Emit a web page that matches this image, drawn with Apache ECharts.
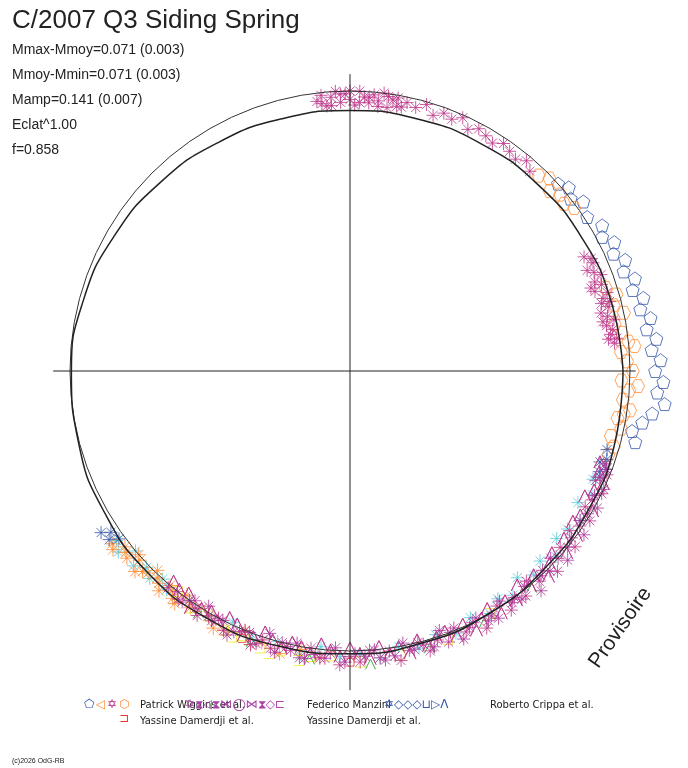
<!DOCTYPE html>
<html><head><meta charset="utf-8">
<script src="https://cdn.jsdelivr.net/npm/echarts@6/dist/echarts.min.js"></script>
<style>body{margin:0;background:#fff}#c{width:688px;height:768px}</style>
</head><body><div id="c"></div>
<script>
// angles in degrees (counter-clockwise from +x), radius in circle units
const fitAngles = [0,15,30,45,60,75,90,105,120,135,150,165,180,195,210,225,240,255,270,285,300,315,330,345,360];
const fitRadii  = [0.975,0.965,0.955,0.945,0.937,0.932,0.93,0.933,0.942,0.955,0.97,0.985,0.995,1.003,1.012,1.02,1.02,1.015,1.01,1.005,0.998,0.99,0.985,0.98,0.975];

const wigginsStar = [[97,.97],[96,.99],[95,.95],[94,.98],[93,1.0],[92,.96],[91,.99],[90,.97],[89,.95],[88,1.0],[87,.98],[86,.96],[85,.99],[84,.97],[83,1.0],[82,.95],[81,.98],[80,.99],[79,.96],[78,.98],[96,.96],[94,.95],[92,.99],[90,1.0],[88,.96],[86,.98],[84,.95],[82,.99],[80,.96],[76,.97],[74,.99],[72,.96],[70,.98],[68,.97],[66,.99],[64,.96],[62,.98],[60,.97],[58,.96],[56,.98],[54,.97],[52,.96],[50,.98],[48,.96],[26,.93],[24,.95],[23,.92],[22,.94],[21,.96],[20,.93],[19,.95],[18,.92],[17,.96],[16,.94],[15,.93],[14,.95],[13,.92],[12,.94],[11,.96],[10,.93],[9,.95],[8,.94],[7,.96],[6,.95],[25,.95],[19,.91],[15,.96],[11,.92],[7,.93]];
const wigginsPent = [[42,1.0],[40,1.02],[38,1.0],[36,1.03],[33,1.01],[30,1.04],[28,1.02],[26,1.05],[24,1.03],[22,1.06],[20,1.04],[18,1.07],[16,1.05],[14,1.08],[12,1.06],[10,1.09],[8,1.07],[6,1.1],[4,1.08],[2,1.11],[0,1.09],[-2,1.12],[-4,1.1],[-6,1.13],[-8,1.09],[-10,1.06],[-12,1.03],[-14,1.05]];
const wigginsHex = [[46,.97],[44,.99],[42,.96],[40,.98],[38,.97],[36,.99],[18,.96],[16,.99],[14,.97],[12,1.0],[10,.96],[8,.98],[6,1.0],[4,.97],[2,.99],[0,1.01],[-2,.97],[-4,1.0],[-6,.98],[-8,1.01],[-10,.97],[-12,.99],[-14,.96],[-16,.98],[-18,.97],[5,1.02],[-3,1.03],[-9,.99]];
const crippaBlue = [[-17,.96],[-19,.97],[-20,.95],[-21,.98],[-22,.96],[-23,.97],[-145,1.05],[-146,1.03],[-147,1.06],[-144,1.02]];
const magA = [-20,-22,-24,-26,-28,-30,-32,-34,-36,-38,-40,-42,-44,-46,-48,-50,-52,-54,-56,-58,-60,-62,-64,-66,-68,-70,-72,-74,-76,-78,-80,-82,-84,-86,-88,-90,-92,-94,-96,-98,-100,-102,-104,-106,-108,-110,-112,-114,-116,-118,-120,-122,-124,-126,-128,-130];
const magR1 = [.97,.99,.96,1.0,.98,.97,1.01,.99,.97,1.02,.98,1.0,1.03,.99,1.01,.98,1.02,1.0,1.03,.99,1.01,1.04,1.0,1.02,.99,1.03,1.01,1.04,1.0,1.02,1.05,1.01,1.03,1.0,1.04,1.02,1.05,1.01,1.03,1.0,1.04,1.02,1.0,1.03,1.01,1.04,1.0,1.02,1.03,1.0,1.01,1.03,.99,1.02,1.0,1.01];
const magR2 = [.95,.96,.99,.97,.95,1.0,.97,.96,1.0,.97,1.01,.97,.99,1.02,.98,1.0,.97,1.01,.99,1.02,.98,1.0,1.03,.99,1.02,.99,1.0,1.02,.99,1.03,1.0,1.02,.99,1.03,1.01,.99,1.02,1.0,.98,1.02,1.0,.99,1.02,1.0,.98,1.01,1.02,.99,.98,1.01,.99,1.0,1.02,.98,.99,.98];
const magB = [-21,-23,-25,-27,-29,-31,-33,-35,-37,-39,-41,-43,-45,-47,-49,-51,-53,-55,-57,-59,-61,-63,-65,-67,-69,-71,-73,-75,-77,-79,-81,-83,-85,-87,-89,-91,-93,-95,-97,-99,-101,-103,-105,-107,-109,-111,-113,-115,-117,-119,-121,-123,-125,-127];
const magR3 = [.98,.97,1.0,.98,1.01,.99,.98,1.02,.99,1.0,1.03,.98,1.01,1.0,1.04,.99,1.02,1.01,.98,1.03,1.02,.99,1.01,1.04,1.0,.98,1.03,1.01,1.02,.99,1.03,1.04,1.0,1.02,1.01,1.04,.99,1.03,1.02,1.04,.99,1.01,1.04,.98,1.03,1.0,1.01,1.04,1.0,1.02,.98,1.01,1.0,1.02];
const cyanA = [-24,-27,-30,-33,-36,-39,-42,-45,-48,-51,-54,-57,-60,-64,-68,-72,-76,-80,-84,-88,-92,-96,-100,-105,-110,-115,-120,-125,-130,-134,-138,-142,-132,-136,-140,-144];
const cyanR = [.95,.97,.94,.98,.96,.95,.99,.96,.98,.95,.99,.97,1.0,.98,1.01,.99,1.02,1.0,1.03,1.01,1.02,.99,1.03,1.0,1.02,.99,1.01,1.0,1.02,1.03,1.04,1.05,1.0,1.01,1.0,1.03];
const orangeA = [-96,-100,-104,-108,-112,-116,-120,-124,-126,-128,-130,-132,-134,-136,-138,-140,-142,-144,-127,-129,-131,-133,-135,-137,-139,-141,-143,-110,-118,-122];
const orangeR = [1.03,1.01,1.04,1.02,1.0,1.03,1.01,1.02,.99,1.03,1.0,1.02,.99,1.03,1.01,1.04,1.02,1.05,1.04,1.01,1.04,1.01,1.02,1.05,1.0,1.03,1.06,1.04,1.04,1.0];
const yellowA = [-60,-70,-80,-88,-94,-100,-104,-108,-112,-116,-120,-124,-128,-98,-106,-114];
const yellowR = [1.0,1.02,1.03,1.04,1.02,1.05,1.03,1.04,1.02,1.03,1.01,1.02,1.0,1.03,1.05,1.04];
const greenA = [-50,-62,-74,-86,-98,-110,-122];
const greenR = [1.01,1.02,1.03,1.05,1.04,1.03,1.02];
const redA = [-90,-112];
const redR = [1.04,1.03];

const toXY = (a, r) => [r*Math.cos(a*Math.PI/180), r*Math.sin(a*Math.PI/180)];
const pairs = arr => arr.map(p => toXY(p[0], p[1]));
const zipAR = (A, R) => A.map((a,i) => toXY(a, R[i]));
const circle = []; for (let a=0;a<=360;a+=5) circle.push(toXY(a,1));
const fit = []; for (let i=0;i<fitAngles.length;i++) fit.push(toXY(fitAngles[i], fitRadii[i]));

const cross = 'path://M0,-10L0,10M-10,0L10,0M-7,-7L7,7M-7,7L7,-7';
const pent = 'path://M0,-10L9.5,-3L6,8L-6,8L-9.5,-3Z';
const hex = 'path://M-5,-9L5,-9L10,0L5,9L-5,9L-10,0Z';
const lam = 'path://M-6,8L0,-8L6,8L0,-8Z';
const sc = (name, data, color, symbol, size) => ({type:'scatter', name, data, symbol, symbolSize:size, clip:false, silent:true,
  itemStyle:{color:'transparent', borderColor:color, borderWidth:1}});

const chart = echarts.init(document.getElementById('c'));
chart.setOption({
  animation:false,
  grid:{left:14, top:35, width:672, height:672},
  xAxis:{type:'value', min:-1.2, max:1.2, show:false},
  yAxis:{type:'value', min:-1.2, max:1.2, show:false},
  series:[
    {type:'line', data:[[-1.06,0],[1.02,0]], symbol:'none', lineStyle:{color:'#222',width:1}, silent:true},
    {type:'line', data:[[0,1.06],[0,-1.14]], symbol:'none', lineStyle:{color:'#222',width:1}, silent:true},
    {type:'line', data:circle, symbol:'none', lineStyle:{color:'#333',width:1}, silent:true},
    {type:'line', data:fit, smooth:0.5, symbol:'none', lineStyle:{color:'#222',width:1.5}, silent:true},
    sc('wp', pairs(wigginsPent), '#3355aa', pent, 13),
    sc('wh', pairs(wigginsHex), '#ff8c33', hex, 13),
    sc('cy', zipAR(cyanA, cyanR), '#55ccdd', cross, 13),
    sc('or', zipAR(orangeA, orangeR), '#ff8c33', cross, 14),
    sc('ye', zipAR(yellowA, yellowR), '#eeee22', 'path://M-8,-8L8,-8L8,8L-8,8', 10),
    sc('gr', zipAR(greenA, greenR), '#55bb55', lam, 10),
    sc('cb', pairs(crippaBlue), '#3355aa', cross, 13),
    sc('m1', zipAR(magA, magR1), '#bb3388', cross, 13),
    sc('m2', zipAR(magA, magR2), '#bb3388', lam, 12),
    sc('m3', zipAR(magB, magR3), '#aa3399', cross, 13),
    sc('re', zipAR(redA, redR), '#ee3333', 'path://M-6,-8L6,-8L6,8L-6,8', 8),
    sc('ws', pairs(wigginsStar), '#bb3388', cross, 13)
  ],
  graphic:[
    {type:'text', left:12, top:8, style:{text:'C/2007 Q3 Siding Spring', font:'26px "Liberation Sans", Arial', fill:'#222'}},
    {type:'text', left:12, top:43, style:{text:'Mmax-Mmoy=0.071 (0.003)\n\nMmoy-Mmin=0.071 (0.003)\n\nMamp=0.141 (0.007)\n\nEclat^1.00\n\nf=0.858', font:'14px "Liberation Sans", Arial', lineHeight:12.5, fill:'#222'}},
    {type:'text', x:585, y:660, rotation:Math.PI*55/180, style:{text:'Provisoire', font:'21px "Liberation Sans", Arial', fill:'#222'}},
    {type:'text', left:12, top:758, style:{text:'(c)2026 OdG-RB', font:'7px "Liberation Sans", Arial', fill:'#222'}},
    {type:'text', left:84, top:699, style:{text:'⬠', font:'12px "DejaVu Sans"', fill:'#3355aa'}},
    {type:'text', left:96, top:699, style:{text:'◁', font:'12px "DejaVu Sans"', fill:'#ff8c33'}},
    {type:'text', left:107, top:699, style:{text:'✡', font:'12px "DejaVu Sans"', fill:'#bb3388'}},
    {type:'text', left:119, top:699, style:{text:'⬡', font:'12px "DejaVu Sans"', fill:'#ff8c33'}},
    {type:'text', left:140, top:700, style:{text:'Patrick Wiggins et al.', font:'10px "DejaVu Sans"', fill:'#222'}},
    {type:'text', left:185, top:699, style:{text:'✡⧗◁⧗⋈◯⋈⧗◇⊏', font:'12px "DejaVu Sans"', fill:'#aa44aa'}},
    {type:'text', left:307, top:700, style:{text:'Federico Manzini', font:'10px "DejaVu Sans"', fill:'#222'}},
    {type:'text', left:384, top:699, style:{text:'✡◇◇◇⊔▷Λ', font:'12px "DejaVu Sans"', fill:'#3355aa'}},
    {type:'text', left:490, top:700, style:{text:'Roberto Crippa et al.', font:'10px "DejaVu Sans"', fill:'#222'}},
    {type:'text', left:119, top:713, style:{text:'⊐', font:'12px "DejaVu Sans"', fill:'#ee3333'}},
    {type:'text', left:140, top:716, style:{text:'Yassine Damerdji et al.', font:'10px "DejaVu Sans"', fill:'#222'}},
    {type:'text', left:307, top:716, style:{text:'Yassine Damerdji et al.', font:'10px "DejaVu Sans"', fill:'#222'}}
  ]
});
</script></body></html>
